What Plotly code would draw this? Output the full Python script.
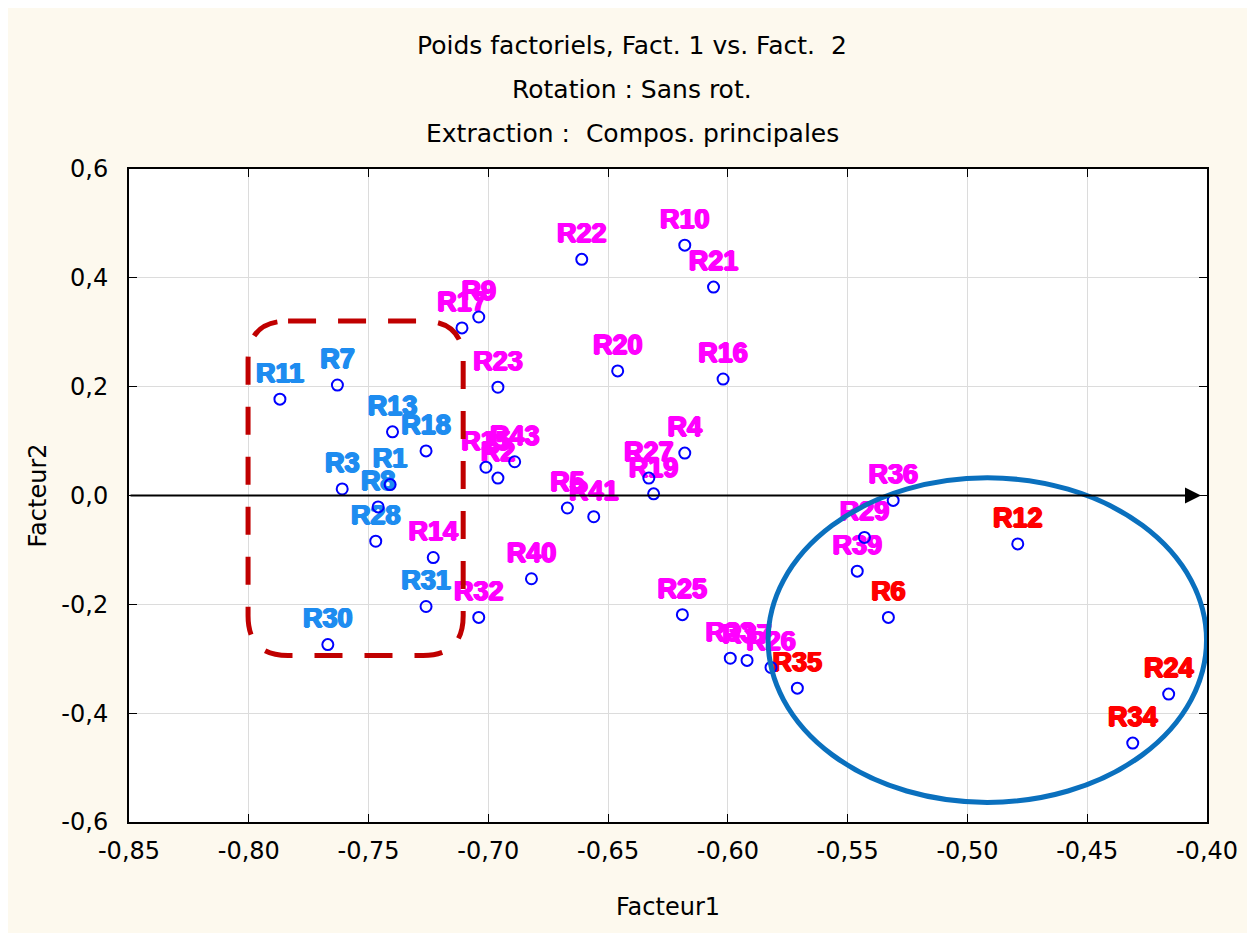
import plotly.graph_objects as go

# --- factor loadings ---
labels = ["R11", "R7", "R13", "R18", "R3", "R1", "R8", "R28", "R14", "R31",
          "R32", "R40", "R30", "R17", "R9", "R23", "R15", "R2", "R43", "R22",
          "R10", "R21", "R20", "R16", "R4", "R27", "R19", "R5", "R41", "R25",
          "R33", "R37", "R26", "R35", "R36", "R29", "R39", "R6", "R12", "R24",
          "R34"]
fact1 = [-0.787, -0.763, -0.740, -0.726, -0.761, -0.741, -0.746, -0.747, -0.723, -0.726,
         -0.704, -0.682, -0.767, -0.711, -0.704, -0.696, -0.701, -0.696, -0.689, -0.661,
         -0.618, -0.606, -0.646, -0.602, -0.618, -0.633, -0.631, -0.667, -0.656, -0.619,
         -0.599, -0.592, -0.582, -0.571, -0.531, -0.543, -0.546, -0.533, -0.479, -0.416,
         -0.431]
fact2 = [0.177, 0.203, 0.117, 0.082, 0.012, 0.020, -0.021, -0.084, -0.114, -0.204,
         -0.224, -0.153, -0.274, 0.308, 0.328, 0.199, 0.052, 0.032, 0.062, 0.434,
         0.460, 0.383, 0.229, 0.214, 0.078, 0.032, 0.003, -0.023, -0.039, -0.219,
         -0.299, -0.303, -0.316, -0.354, -0.009, -0.077, -0.139, -0.224, -0.089, -0.365,
         -0.455]
# group: 1 = left cluster (blue), 2 = middle (magenta), 3 = right cluster (red)
group = [1, 1, 1, 1, 1, 1, 1, 1, 2, 1,
         2, 2, 1, 2, 2, 2, 2, 2, 2, 2,
         2, 2, 2, 2, 2, 2, 2, 2, 2, 2,
         2, 2, 2, 3, 2, 2, 2, 3, 3, 3,
         3]

group_colors = {1: "#1E8CF0", 2: "#FF00FF", 3: "#FF0000"}

x_ticks = [-0.85, -0.80, -0.75, -0.70, -0.65, -0.60, -0.55, -0.50, -0.45, -0.40]
x_tick_text = ["-0,85", "-0,80", "-0,75", "-0,70", "-0,65", "-0,60", "-0,55", "-0,50", "-0,45", "-0,40"]
y_ticks = [-0.6, -0.4, -0.2, 0.0, 0.2, 0.4, 0.6]
y_tick_text = ["-0,6", "-0,4", "-0,2", "0,0", "0,2", "0,4", "0,6"]

title_lines = ["Poids factoriels, Fact. 1 vs. Fact.  2",
               "Rotation : Sans rot.",
               "Extraction :  Compos. principales"]

FONT = "DejaVu Sans, Verdana, Liberation Sans"

fig = go.Figure()

# labels, one text trace per colour group so the shadow can thicken the glyphs
for g, col in group_colors.items():
    idx = [i for i, v in enumerate(group) if v == g]
    fig.add_trace(go.Scatter(
        x=[fact1[i] for i in idx], y=[fact2[i] for i in idx],
        mode="markers+text", text=[labels[i] for i in idx], textposition="top center",
        marker=dict(size=15, color="rgba(0,0,0,0)"),
        textfont=dict(family="Liberation Sans, Arial", size=27, color=col, weight="bold",
                      shadow=f"1px 0 0 {col}, -1px 0 0 {col}, 0 1px 0 {col}, 0 -0.5px 0 {col}"),
        cliponaxis=False, showlegend=False, hoverinfo="skip",
    ))

fig.add_trace(go.Scatter(
    x=fact1, y=fact2, mode="markers", text=labels,
    marker=dict(symbol="circle-open", size=11, color="#0000FF", line=dict(width=2, color="#0000FF")),
    cliponaxis=False, showlegend=False,
))

# dashed rounded box around the left cluster
bx0, bx1, by0, by1 = -0.8003, -0.7105, -0.294, 0.3206
rx, ry = 0.0167, 0.073
box_path = (f"M {bx0 + rx},{by1} L {bx1 - rx},{by1} Q {bx1},{by1} {bx1},{by1 - ry} "
            f"L {bx1},{by0 + ry} Q {bx1},{by0} {bx1 - rx},{by0} "
            f"L {bx0 + rx},{by0} Q {bx0},{by0} {bx0},{by0 + ry} "
            f"L {bx0},{by1 - ry} Q {bx0},{by1} {bx0 + rx},{by1} Z")
fig.add_shape(type="path", path=box_path, xref="x", yref="y",
              line=dict(color="#C00000", width=5, dash="28px,22px"))

# ellipse around the right cluster
fig.add_shape(type="circle", xref="x", yref="y",
              x0=-0.5832, x1=-0.4002, y0=-0.564, y1=0.0325,
              line=dict(color="#0A70BE", width=5))

# horizontal arrow along Facteur2 = 0
fig.add_annotation(x=-0.4025, y=0, ax=-0.85, ay=0, xref="x", yref="y",
                   axref="x", ayref="y", text="", showarrow=True,
                   arrowhead=2, arrowsize=1.6, arrowwidth=2, arrowcolor="black")

for i, line in enumerate(title_lines):
    fig.add_annotation(text=line, xref="paper", yref="paper", x=0.467, y=1,
                       yshift=124 - 44 * i, showarrow=False, yanchor="middle",
                       font=dict(family=FONT, size=25, color="black"))

axis_common = dict(showline=True, linecolor="black", linewidth=2, mirror="ticks",
                   ticks="inside", ticklen=8, tickcolor="black", tickwidth=1,
                   showgrid=True, gridcolor="#DCDCDC", gridwidth=1, zeroline=False,
                   tickfont=dict(family=FONT, size=24, color="black"))

fig.update_xaxes(range=[-0.85, -0.40], tickvals=x_ticks, ticktext=x_tick_text,
                 ticklabelstandoff=6,
                 title=dict(text="Facteur1", standoff=34,
                            font=dict(family=FONT, size=24, color="black")),
                 **axis_common)
fig.update_yaxes(range=[-0.6, 0.6], tickvals=y_ticks, ticktext=y_tick_text,
                 ticklabelstandoff=14,
                 title=dict(text="Facteur2", standoff=8,
                            font=dict(family=FONT, size=24, color="black")),
                 **axis_common)

fig.update_layout(
    width=1247, height=925,
    margin=dict(l=121, r=48, t=161, b=111),
    paper_bgcolor="#FDF9EE", plot_bgcolor="white",
)

fig.write_html("out.html")
